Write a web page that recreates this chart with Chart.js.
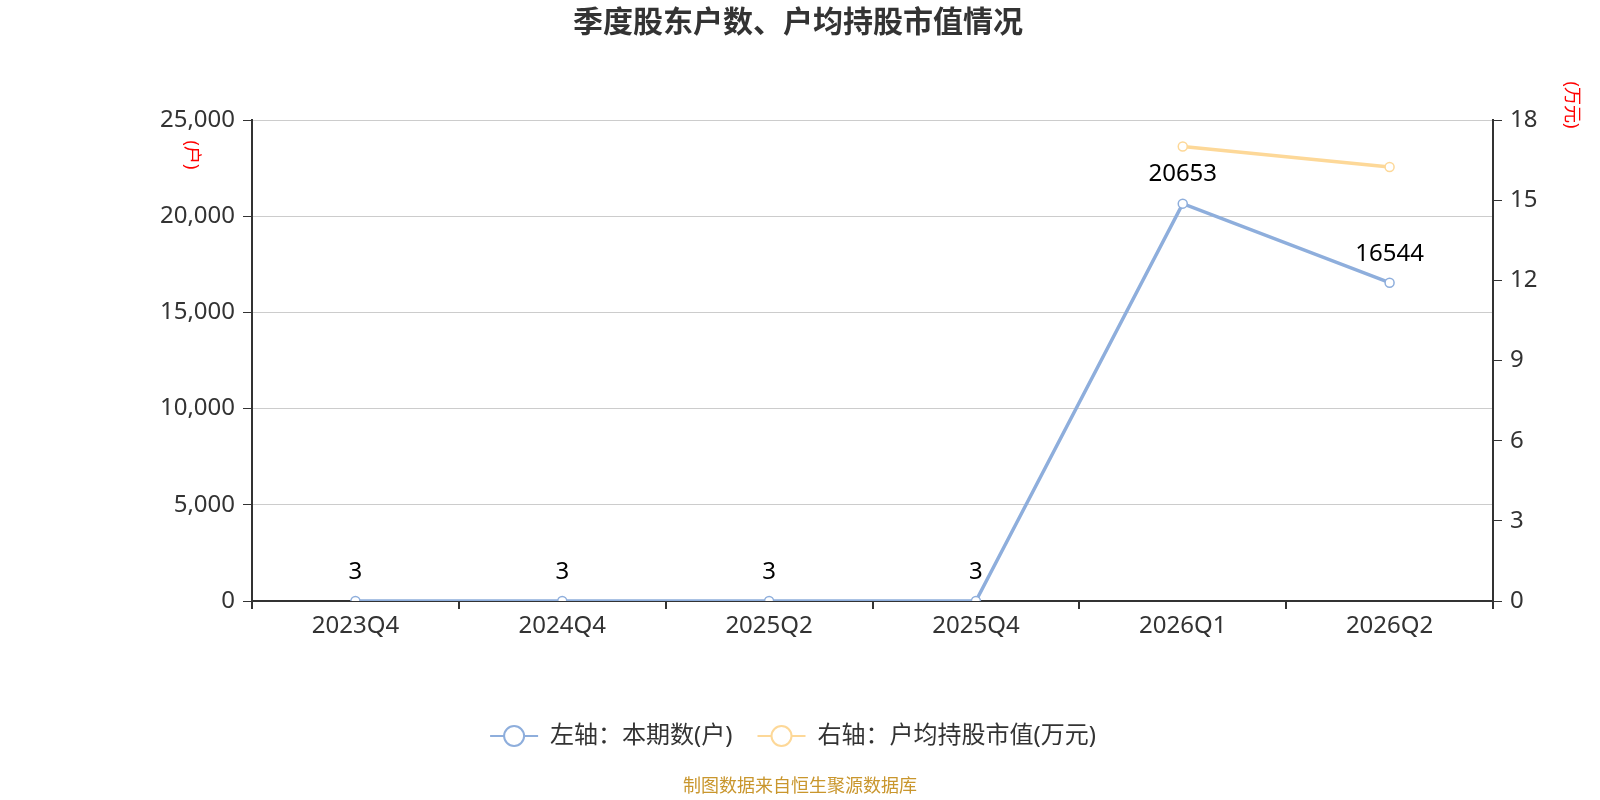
<!DOCTYPE html>
<html>
<head>
<meta charset="utf-8">
<style>
  html, body { margin: 0; padding: 0; background: #ffffff; }
  #wrap { width: 1600px; height: 800px; position: relative; }
</style>
<script src="https://cdn.jsdelivr.net/npm/chart.js@4.4.1/dist/chart.umd.min.js"></script>
</head>
<body>
<div id="wrap"><canvas id="c" width="1600" height="800"></canvas></div>
<script>
// ---- data ----
const categories = ["2023Q4", "2024Q4", "2025Q2", "2025Q4", "2026Q1", "2026Q2"];
const holders = [3, 3, 3, 3, 20653, 16544];             // 左轴：本期数(户)
const avgValue = [null, null, null, null, 17.01, 16.24]; // 右轴：户均持股市值(万元)
const leftTicks = [0, 5000, 10000, 15000, 20000, 25000];
const rightTicks = [0, 3, 6, 9, 12, 15, 18];
const seriesNames = ["左轴：本期数(户)", "右轴：户均持股市值(万元)"];
const titleText = "季度股东户数、户均持股市值情况";
const sourceText = "制图数据来自恒生聚源数据库";

const FONT = '"Noto Sans", "Noto Sans CJK SC", sans-serif';
const BLUE = '#8eaedc';
const YELLOW = '#fdd898';
const AXIS = '#333333';

const decorPlugin = {
  id: 'decor',
  afterDatasetsDraw(chart) {
    const ctx = chart.ctx;
    const meta = chart.getDatasetMeta(0);
    ctx.save();
    ctx.font = '24px ' + FONT;
    ctx.fillStyle = '#000000';
    ctx.textAlign = 'center';
    ctx.textBaseline = 'middle';
    meta.data.forEach((pt, i) => {
      ctx.fillText(String(holders[i]), pt.x, pt.y - 29);
    });
    ctx.restore();
  },
  afterDraw(chart) {
    const ctx = chart.ctx;
    ctx.save();
    // title
    ctx.font = 'bold 30px ' + FONT;
    ctx.fillStyle = '#333333';
    ctx.textAlign = 'center';
    ctx.textBaseline = 'middle';
    ctx.fillText(titleText, 798, 23);

    // unit labels (rotated)
    ctx.fillStyle = '#ff0000';
    ctx.font = '18px ' + FONT;
    ctx.save();
    ctx.translate(191, 155);
    ctx.rotate(Math.PI / 2);
    ctx.fillText('(户)', 0, 0);
    ctx.restore();
    ctx.save();
    ctx.translate(1571, 105);
    ctx.rotate(Math.PI / 2);
    ctx.fillText('(万元)', 0, 0);
    ctx.restore();

    // legend
    const ly = 736;
    ctx.font = '24px ' + FONT;
    const colors = [BLUE, YELLOW];
    const symW = 48, gapT = 12, gapItem = 25;
    const widths = seriesNames.map(s => ctx.measureText(s).width);
    const total = widths.reduce((a, w) => a + symW + gapT + w, 0) + gapItem;
    let x = 793 - total / 2;
    seriesNames.forEach((name, i) => {
      ctx.strokeStyle = colors[i];
      ctx.lineWidth = 2;
      ctx.beginPath();
      ctx.moveTo(x, ly);
      ctx.lineTo(x + symW, ly);
      ctx.stroke();
      ctx.beginPath();
      ctx.arc(x + symW / 2, ly, 10, 0, Math.PI * 2);
      ctx.fillStyle = '#ffffff';
      ctx.fill();
      ctx.lineWidth = 2;
      ctx.stroke();
      ctx.fillStyle = '#333333';
      ctx.textAlign = 'left';
      ctx.fillText(name, x + symW + gapT, ly);
      x += symW + gapT + widths[i] + gapItem;
    });

    // source
    ctx.font = '18px ' + FONT;
    ctx.fillStyle = '#c9962d';
    ctx.textAlign = 'center';
    ctx.fillText(sourceText, 800, 787);
    ctx.restore();
  }
};

new Chart(document.getElementById('c'), {
  type: 'line',
  data: {
    labels: categories,
    datasets: [
      {
        label: seriesNames[0],
        data: holders,
        yAxisID: 'y',
        borderColor: BLUE,
        backgroundColor: '#ffffff',
        borderWidth: 3.5,
        pointRadius: 4.5,
        pointBorderWidth: 1.5,
        pointBorderColor: BLUE,
        pointBackgroundColor: '#ffffff',
        tension: 0
      },
      {
        label: seriesNames[1],
        data: avgValue,
        yAxisID: 'y1',
        borderColor: YELLOW,
        backgroundColor: '#ffffff',
        borderWidth: 3.5,
        pointRadius: 4.5,
        pointBorderWidth: 1.5,
        pointBorderColor: YELLOW,
        pointBackgroundColor: '#ffffff',
        tension: 0
      }
    ]
  },
  options: {
    responsive: false,
    animation: false,
    devicePixelRatio: 1,
    locale: 'en-US',
    layout: { padding: { top: 120, left: 0, right: 0, bottom: 0 } },
    plugins: {
      legend: { display: false },
      title: { display: false },
      tooltip: { enabled: false }
    },
    scales: {
      x: {
        type: 'category',
        offset: true,
        grid: { offset: true, drawOnChartArea: false, drawTicks: true, tickLength: 8, tickColor: AXIS, lineWidth: 2 },
        border: { display: true, color: AXIS, width: 2 },
        ticks: { color: '#333333', font: { size: 24, family: FONT }, padding: 3, maxRotation: 0, autoSkip: false },
        afterFit(scale) { scale.height = 199; }
      },
      y: {
        position: 'left',
        min: 0,
        max: 25000,
        afterBuildTicks(scale) { scale.ticks = leftTicks.map(v => ({ value: v })); },
        grid: { color: '#cccccc', lineWidth: 1, tickColor: AXIS, tickLength: 9, drawTicks: true },
        border: { display: true, color: AXIS, width: 2 },
        ticks: {
          color: '#333333', font: { size: 24, family: FONT }, padding: 8,
          callback: v => Number(v).toLocaleString('en-US')
        },
        afterFit(scale) { scale.width = 252; }
      },
      y1: {
        position: 'right',
        min: 0,
        max: 18,
        afterBuildTicks(scale) { scale.ticks = rightTicks.map(v => ({ value: v })); },
        grid: { drawOnChartArea: false, tickColor: AXIS, tickLength: 9, drawTicks: true },
        border: { display: true, color: AXIS, width: 2 },
        ticks: { color: '#333333', font: { size: 24, family: FONT }, padding: 8 },
        afterFit(scale) { scale.width = 107; }
      }
    }
  },
  plugins: [decorPlugin]
});
</script>
</body>
</html>
